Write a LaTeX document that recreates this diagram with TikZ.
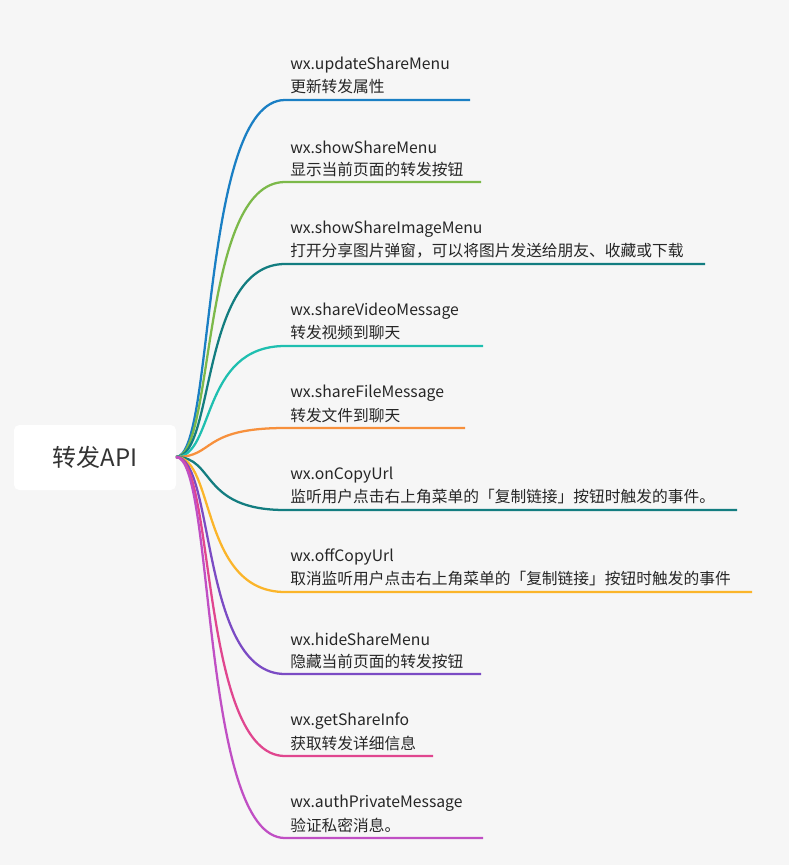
\documentclass[tikz,border=0pt]{standalone}
\usepackage{fontspec}
\setmainfont{Noto Sans CJK SC}
\definecolor{bg}{HTML}{F6F6F6}
\definecolor{c1}{HTML}{1A7FC4}
\definecolor{c2}{HTML}{7CB94A}
\definecolor{c3}{HTML}{137D80}
\definecolor{c4}{HTML}{1FBFB0}
\definecolor{c5}{HTML}{F7903C}
\definecolor{c7}{HTML}{FBB52A}
\definecolor{c8}{HTML}{7B4BC4}
\definecolor{c9}{HTML}{E0468F}
\definecolor{c10}{HTML}{C04FC4}
\begin{document}
\begin{tikzpicture}[x=0.75pt,y=-0.75pt,
  lbl/.style={anchor=west,inner sep=0pt,font=\fontsize{11.8pt}{14pt}\selectfont,text=black!85},
  br/.style={line width=1.7pt}]
\fill[bg] (0,0) rectangle (789,865);
\node[fill=white,rounded corners=4pt,minimum width=121.5pt,minimum height=48.75pt,inner sep=0pt,font=\fontsize{18pt}{20pt}\selectfont,text=black!80] (root) at (95,457.5) {转发API};
\coordinate (s) at (176,457);
\foreach \i/\y/\e/\c/\t/\d in {
 1/100/470/c1/wx.updateShareMenu/更新转发属性,
 2/182/481/c2/wx.showShareMenu/显示当前页面的转发按钮,
 3/264/705/c3/wx.showShareImageMenu/{打开分享图片弹窗，可以将图片发送给朋友、收藏或下载},
 4/346/483/c4/wx.shareVideoMessage/转发视频到聊天,
 5/428/465/c5/wx.shareFileMessage/转发文件到聊天,
 6/510/737/c3/wx.onCopyUrl/{监听用户点击右上角菜单的「复制链接」按钮时触发的事件。},
 7/592/752/c7/wx.offCopyUrl/{取消监听用户点击右上角菜单的「复制链接」按钮时触发的事件},
 8/674/481/c8/wx.hideShareMenu/隐藏当前页面的转发按钮,
 9/756/433/c9/wx.getShareInfo/获取转发详细信息,
 10/838/483/c10/wx.authPrivateMessage/验证私密消息。}{
  \coordinate (a\i) at (285,\y);
  \coordinate (e\i) at (\e,\y);
  \draw[br,\c] (s) .. controls (215,457) and (200,\y) .. (a\i) -- (e\i);
  \node[lbl] (t\i) at (290,\y-35) {\t};
  \node[lbl] (d\i) at (290,\y-13) {\d};
}
\end{tikzpicture}
\end{document}
